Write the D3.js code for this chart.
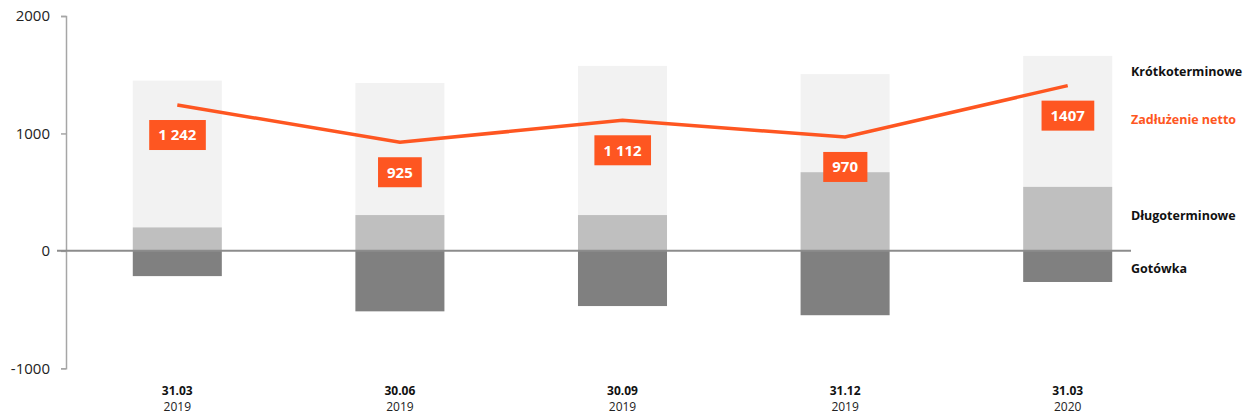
<!DOCTYPE html>
<html>
<head>
<meta charset="utf-8">
<script src="https://cdn.jsdelivr.net/npm/d3@7"></script>
<style>
  html, body { margin: 0; padding: 0; background: #fff; }
  svg { display: block; font-family: "Open Sans", "Noto Sans", sans-serif; }
</style>
</head>
<body>
<svg id="chart" width="1244" height="415"></svg>
<script>
const categories = ["31.03", "30.06", "30.09", "31.12", "31.03"];
const years = ["2019", "2019", "2019", "2019", "2020"];
const longTerm = [200, 305, 305, 670, 545];
const shortTerm = [1250, 1125, 1270, 835, 1115];
const cash = [-215, -515, -470, -548, -265];
const netDebt = [1242, 925, 1112, 970, 1407];
const netLabels = ["1 242", "925", "1 112", "970", "1407"];
const yTicks = [-1000, 0, 1000, 2000];
const seriesNames = ["Krótkoterminowe", "Zadłużenie netto", "Długoterminowe", "Gotówka"];

const colors = { short: "#f2f2f2", long: "#bfbfbf", cash: "#808080", net: "#fe5621", axis: "#a6a6a6", zero: "#8c8c8c" };

const svg = d3.select("#chart");
const idx = d3.range(categories.length);

const x = d3.scaleBand().domain(idx).range([66, 1179]).paddingInner(0.6).paddingOuter(0.3);
const y = d3.scaleLinear().domain([-1000, 2000]).range([368.3, 16]);

// y axis
const yAxis = d3.axisLeft(y).tickValues(yTicks).tickSize(5).tickPadding(11).tickFormat(d => String(d));
const gy = svg.append("g").attr("transform", "translate(66,0)").call(yAxis);
gy.select(".domain").attr("stroke", colors.axis).attr("stroke-width", 1.5);
gy.selectAll(".tick line").attr("stroke", colors.axis).attr("stroke-width", 1.5);
gy.selectAll(".tick text").attr("font-size", 15).attr("fill", "#222").attr("font-family", "'Open Sans', sans-serif");

// bars
const bars = svg.append("g");
bars.selectAll("rect.short").data(idx).join("rect")
  .attr("x", i => x(i)).attr("width", x.bandwidth())
  .attr("y", i => y(longTerm[i] + shortTerm[i]))
  .attr("height", i => y(longTerm[i]) - y(longTerm[i] + shortTerm[i]))
  .attr("fill", colors.short);
bars.selectAll("rect.long").data(idx).join("rect")
  .attr("x", i => x(i)).attr("width", x.bandwidth())
  .attr("y", i => y(longTerm[i]))
  .attr("height", i => y(0) - y(longTerm[i]))
  .attr("fill", colors.long);
bars.selectAll("rect.cash").data(idx).join("rect")
  .attr("x", i => x(i)).attr("width", x.bandwidth())
  .attr("y", y(0))
  .attr("height", i => y(cash[i]) - y(0))
  .attr("fill", colors.cash);

// zero line
svg.append("line")
  .attr("x1", 57).attr("x2", 1131)
  .attr("y1", y(0)).attr("y2", y(0))
  .attr("stroke", colors.zero).attr("stroke-width", 2);

// net debt line
const cx = i => x(i) + x.bandwidth() / 2;
const line = d3.line().x(i => cx(i)).y(i => y(netDebt[i]));
svg.append("path").datum(idx).attr("d", line)
  .attr("fill", "none").attr("stroke", colors.net).attr("stroke-width", 3.5)
  .attr("stroke-linejoin", "miter");

// labels
const lg = svg.append("g").selectAll("g").data(idx).join("g")
  .attr("transform", i => `translate(${cx(i)},${y(netDebt[i]) + 30})`);
lg.append("text")
  .attr("text-anchor", "middle").attr("dy", "0.36em")
  .attr("font-size", 15).attr("font-weight", "bold").attr("fill", "#fff")
  .text(i => netLabels[i]);
lg.each(function () {
  const g = d3.select(this);
  const bb = g.select("text").node().getBBox();
  g.insert("rect", "text")
    .attr("x", bb.x - 9).attr("width", bb.width + 18)
    .attr("y", -15).attr("height", 30)
    .attr("fill", colors.net);
});

// x labels
const xl = svg.append("g").selectAll("g").data(idx).join("g")
  .attr("transform", i => `translate(${cx(i)},0)`);
xl.append("text").attr("y", 394.5).attr("text-anchor", "middle")
  .attr("font-size", 12).attr("font-weight", "bold").attr("fill", "#111")
  .text(i => categories[i]);
xl.append("text").attr("y", 411).attr("text-anchor", "middle")
  .attr("font-size", 12).attr("fill", "#222")
  .text(i => years[i]);

// legend labels on the right, placed relative to the last bar
const last = categories.length - 1;
const legendY = [
  y(longTerm[last] + shortTerm[last]) + 16,
  y(netDebt[last]) + 34,
  y(longTerm[last] / 2) - 3,
  y(cash[last] / 2) + 2
];
const legendColors = ["#111", colors.net, "#111", "#111"];
svg.append("g").selectAll("text").data(seriesNames).join("text")
  .attr("x", 1131).attr("y", (d, i) => legendY[i]).attr("dy", "0.35em")
  .attr("font-size", 12.5).attr("font-weight", "bold")
  .attr("fill", (d, i) => legendColors[i])
  .text(d => d);
</script>
</body>
</html>
